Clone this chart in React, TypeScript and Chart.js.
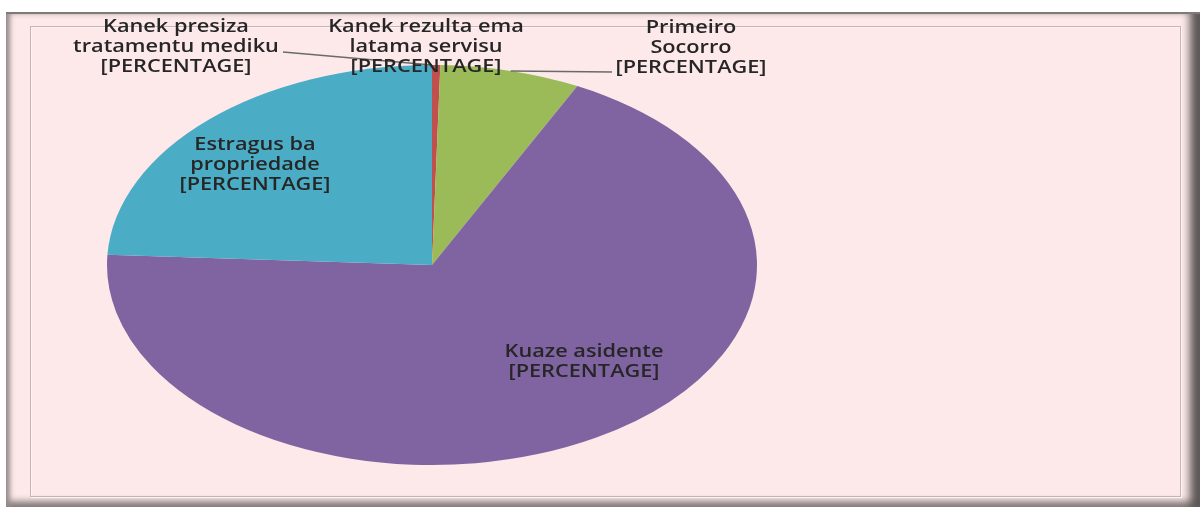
import React, { useEffect, useRef } from "react";
import { Chart, registerables } from "chart.js";

Chart.register(...registerables);

// ---- data ----
const categories = [
  "Kanek presiza tratamentu mediku",
  "Kanek rezulta ema latama servisu",
  "Primeiro Socorro",
  "Kuaze asidente",
  "Estragus ba propriedade",
];
const values = [0, 1, 17, 167, 59];
const labelLines = [
  ["Kanek presiza", "tratamentu mediku", "[PERCENTAGE]"],
  ["Kanek rezulta ema", "latama servisu", "[PERCENTAGE]"],
  ["Primeiro", "Socorro", "[PERCENTAGE]"],
  ["Kuaze asidente", "[PERCENTAGE]"],
  ["Estragus ba", "propriedade", "[PERCENTAGE]"],
];

// ---- styling / layout ----
const sliceColors = ["#4F81BD", "#C0504D", "#9BBB59", "#8064A2", "#4BACC6"];
const STRETCH_X = 1.625; // pie drawn as ellipse
// label block centre offsets from pie centre (px)
const labelOffsets: [number, number][] = [
  [-256, -218],
  [-6, -218],
  [259, -217],
  [152, 97],
  [-177, -100],
];
// leader line start points relative to pie centre (null = no leader)
const leaderStarts: ([number, number] | null)[] = [
  [-149, -213],
  null,
  [180, -193],
  null,
  null,
];
const LINE_H = 20;
const FONT = "600 18px 'Open Sans'";
const TARGET_PCT_W = 151;

const ellipsePlugin = {
  id: "ellipse",
  beforeDatasetsDraw(chart: any) {
    const arc = chart.getDatasetMeta(0).data[0];
    const ctx = chart.ctx;
    ctx.save();
    ctx.translate(arc.x, 0);
    ctx.scale(STRETCH_X, 1);
    ctx.translate(-arc.x, 0);
  },
  afterDatasetsDraw(chart: any) {
    chart.ctx.restore();
  },
};

const labelPlugin = {
  id: "pieLabels",
  afterDraw(chart: any) {
    const ctx = chart.ctx;
    const arcs = chart.getDatasetMeta(0).data;
    const cx = arcs[0].x;
    const cy = arcs[0].y;
    ctx.save();
    ctx.font = FONT;
    const tsx = TARGET_PCT_W / ctx.measureText("[PERCENTAGE]").width;
    // leader lines
    ctx.strokeStyle = "#6a6a6a";
    ctx.lineWidth = 1.5;
    arcs.forEach((a: any, i: number) => {
      const s = leaderStarts[i];
      if (!s) return;
      const mid = (a.startAngle + a.endAngle) / 2;
      const r = a.outerRadius;
      const ex = cx + STRETCH_X * r * Math.cos(mid);
      const ey = cy + r * Math.sin(mid);
      ctx.beginPath();
      ctx.moveTo(cx + s[0], cy + s[1]);
      ctx.lineTo(ex, ey);
      ctx.stroke();
    });
    // text
    ctx.fillStyle = "#262626";
    ctx.textAlign = "center";
    ctx.textBaseline = "middle";
    labelLines.forEach((lines, i) => {
      const [ox, oy] = labelOffsets[i];
      const bx = cx + ox;
      const by = cy + oy - ((lines.length - 1) * LINE_H) / 2;
      lines.forEach((t, j) => {
        ctx.save();
        ctx.translate(bx, by + j * LINE_H);
        ctx.scale(tsx, 1);
        ctx.fillText(t, 0, 0);
        ctx.restore();
      });
    });
    ctx.restore();
  },
};

export default function App() {
  const ref = useRef<HTMLCanvasElement>(null);
  useEffect(() => {
    if (!ref.current) return;
    const chart = new Chart(ref.current, {
      type: "pie",
      data: {
        labels: categories,
        datasets: [
          {
            data: values,
            backgroundColor: sliceColors,
            borderWidth: 0,
            clip: false,
          } as any,
        ],
      },
      options: {
        responsive: false,
        animation: false,
        layout: { padding: { left: 232, right: 568, top: 65, bottom: 42 } },
        plugins: {
          legend: { display: false },
          tooltip: { enabled: false },
        },
      },
      plugins: [ellipsePlugin, labelPlugin],
    });
    return () => chart.destroy();
  }, []);

  return (
    <div>
      <div
        style={{
          position: "absolute",
          left: 6,
          top: 12,
          width: 1194,
          height: 495,
          boxSizing: "border-box",
          background: "#fde9e9",
          borderTop: "2px solid #7e7a7a",
          boxShadow:
            "inset 7px 0 5px -3px #968b8b, inset -14px 0 8px -4px #5d5757, inset 0 -10px 6px -4px #8d8383",
        }}
      />
      <div
        style={{
          position: "absolute",
          left: 30,
          top: 26,
          width: 1151,
          height: 471,
          boxSizing: "border-box",
          border: "1px solid #c7b3b3",
          boxShadow: "1px 1px 0 #fff4f4, inset 1px 1px 0 #fff4f4",
        }}
      />
      <canvas
        ref={ref}
        width={1200}
        height={507}
        style={{ position: "absolute", left: 0, top: 0 }}
      />
    </div>
  );
}
